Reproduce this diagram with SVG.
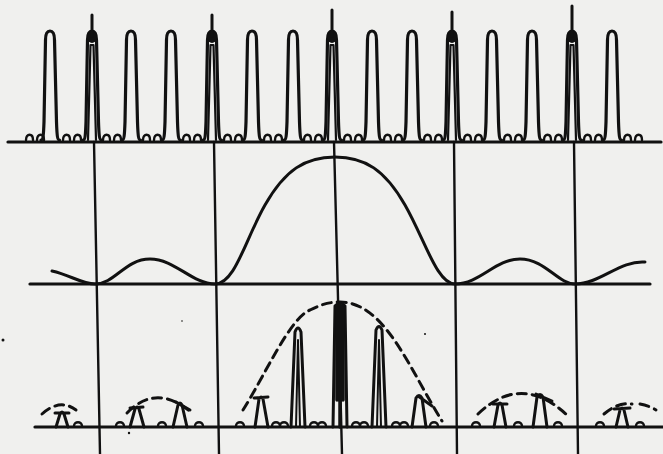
<svg xmlns="http://www.w3.org/2000/svg" xmlns:xlink="http://www.w3.org/1999/xlink" width="663" height="454" viewBox="0 0 663 454">
<style>
.ln{fill:none;stroke:#111;stroke-linecap:round;stroke-linejoin:round}
.base{stroke-width:3.2}
.pk{stroke-width:3.2}
.rp{stroke-width:2.4}
.vl{stroke-width:2.4}
.dash{stroke-width:3;stroke-dasharray:9 6}
.sp{stroke-width:2.2}
</style>
<defs>
<path id="pk" class="ln pk" d="M -9,0 C -7,0 -6.5,-4 -6,-18 L -4.5,-100 Q -4.5,-109 0,-109 Q 4.5,-109 4.5,-100 L 6.5,-18 C 7,-4 7.5,0 9.5,0"/>
<path id="rp" class="ln rp" d="M -9,0 C -9,-7 -2,-7 -2,0 M 2,0 C 2,-7 9,-7 9,0"/>
<path id="brp" class="ln rp" d="M -4,0 C -4,-5 4,-5 4,0"/>
<g id="spk">
<path class="ln sp" d="M -4,0 L -1.5,-95 L 1.5,-95 L 4,0"/>
<ellipse cx="0" cy="-103" rx="4.5" ry="6" fill="#111"/>
</g>
</defs>
<rect width="663" height="454" fill="#f0f0ee"/>

<g id="top-row">
<line class="ln base" x1="8" y1="142" x2="661" y2="142"/>
<use href="#pk" x="50" y="140"/>
<use href="#pk" x="92" y="140"/>
<use href="#pk" x="131" y="140"/>
<use href="#pk" x="171" y="140"/>
<use href="#pk" x="212" y="140"/>
<use href="#pk" x="252" y="140"/>
<use href="#pk" x="293" y="140"/>
<use href="#pk" x="332" y="140"/>
<use href="#pk" x="372" y="140"/>
<use href="#pk" x="412" y="140"/>
<use href="#pk" x="452" y="140"/>
<use href="#pk" x="492" y="140"/>
<use href="#pk" x="532" y="140"/>
<use href="#pk" x="572" y="140"/>
<use href="#pk" x="612" y="140"/>
<use href="#spk" x="92" y="140"/>
<use href="#spk" x="212" y="140"/>
<use href="#spk" x="332" y="140"/>
<use href="#spk" x="452" y="140"/>
<use href="#spk" x="572" y="140"/>
<g class="ln" stroke-width="3">
<path d="M92,15 V36"/>
<path d="M212,15 V36"/>
<path d="M332,10 V36"/>
<path d="M452,12 V36"/>
<path d="M572,6 V36"/>
</g>
<use href="#rp" x="35" y="140"/>
<use href="#rp" x="72" y="140"/>
<use href="#rp" x="112" y="140"/>
<use href="#rp" x="152" y="140"/>
<use href="#rp" x="192" y="140"/>
<use href="#rp" x="233" y="140"/>
<use href="#rp" x="273" y="140"/>
<use href="#rp" x="313" y="140"/>
<use href="#rp" x="353" y="140"/>
<use href="#rp" x="393" y="140"/>
<use href="#rp" x="433" y="140"/>
<use href="#rp" x="473" y="140"/>
<use href="#rp" x="513" y="140"/>
<use href="#rp" x="553" y="140"/>
<use href="#rp" x="593" y="140"/>
<use href="#rp" x="633" y="140"/>
</g>

<g id="verticals">
<line class="ln vl" x1="94" y1="142" x2="100" y2="454"/>
<line class="ln vl" x1="214" y1="142" x2="219" y2="454"/>
<line class="ln vl" x1="334" y1="142" x2="342" y2="454"/>
<line class="ln vl" x1="454" y1="142" x2="457" y2="454"/>
<line class="ln vl" x1="574" y1="142" x2="578" y2="454"/>
</g>

<g id="middle-row">
<line class="ln base" x1="30" y1="284" x2="650" y2="284"/>
<path class="ln" stroke-width="3" d="M52,271 C 70,275 82,284 95,284 C 115,284 125,259 150,259 C 175,259 192,284 215,284 C 235,284 245,240 265,205 C 285,170 305,157 335,157 C 365,157 385,170 405,205 C 425,240 437,284 455,284 C 480,284 495,259 520,259 C 545,259 558,284 575,284 C 600,284 620,260 645,262"/>
</g>

<g id="bottom-row">
<line class="ln base" x1="35" y1="427" x2="663" y2="427"/>
<path class="ln dash" d="M243,410 C 265,375 290,318 310,310 C 322,304 330,302 340,302 C 385,302 410,370 442,421"/>
<path class="ln dash" d="M42,414 Q 60,398 76,410"/>
<path class="ln dash" d="M127,413 Q 157,382 193,414"/>
<path class="ln dash" d="M478,414 Q 522,372 568,416"/>
<path class="ln dash" d="M604,414 Q 618,402 632,404 M640,404 Q 650,406 656,410"/>
<g class="ln" stroke-width="3">
<path d="M56,427 L60,414 Q62,410 64,414 L68,427 M55,413 L69,413"/>
<path d="M130,427 L135,409 Q137,405 139,409 L144,427 M130,408 L143,407"/>
<path d="M173,427 L178,405 Q180,401 182,405 L187,427 M176,402 L190,410"/>
<path d="M255,427 L259,399 Q261,395 263,399 L268,427 M254,398 L268,397"/>
<path d="M291,427 L295,332 Q298,324 301,332 L305,427"/>
<path d="M296,427 L298,340 L300,427" stroke-width="2"/>
<path d="M333,427 L335,306 Q340,300 345,306 L347,427"/>
<path d="M337,306 V400 M340,303 V427 M343,306 V400" stroke-width="3.5"/>
<path d="M372,427 L376,330 Q379,323 382,330 L386,427"/>
<path d="M377,427 L379,340 L381,427" stroke-width="2"/>
<path d="M412,427 L416,398 Q419,393 422,398 L426,427 M418,396 L432,406"/>
<path d="M494,427 L498,405 Q500,401 502,405 L506,427 M493,404 L507,404"/>
<path d="M533,427 L537,397 Q540,392 543,397 L547,427 M536,394 L552,401"/>
<path d="M616,427 L620,410 Q622,406 624,410 L628,427 M614,409 L630,408"/>
</g>
<use href="#brp" x="78" y="426"/>
<use href="#brp" x="120" y="426"/>
<use href="#brp" x="162" y="426"/>
<use href="#brp" x="199" y="426"/>
<use href="#brp" x="240" y="426"/>
<use href="#brp" x="276" y="426"/>
<use href="#brp" x="284" y="426"/>
<use href="#brp" x="314" y="426"/>
<use href="#brp" x="322" y="426"/>
<use href="#brp" x="356" y="426"/>
<use href="#brp" x="364" y="426"/>
<use href="#brp" x="396" y="426"/>
<use href="#brp" x="404" y="426"/>
<use href="#brp" x="434" y="426"/>
<use href="#brp" x="476" y="426"/>
<use href="#brp" x="518" y="426"/>
<use href="#brp" x="558" y="426"/>
<use href="#brp" x="600" y="426"/>
<use href="#brp" x="640" y="426"/>
</g>

<g id="specks" fill="#111">
<circle cx="3" cy="340" r="1.5"/>
<circle cx="129" cy="433" r="1.2"/>
<circle cx="425" cy="334" r="1"/>
<circle cx="182" cy="321" r="0.8"/>
</g>
</svg>
